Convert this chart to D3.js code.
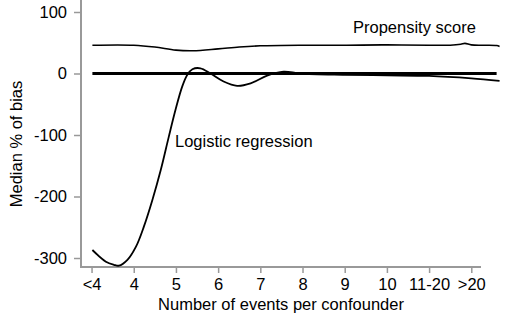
<!DOCTYPE html>
<html>
<head>
<meta charset="utf-8">
<script src="https://cdn.jsdelivr.net/npm/d3@7"></script>
<style>
  body { margin: 0; background: #fff; }
  text { font-family: Arial, "Liberation Sans", sans-serif; fill: #000; }
</style>
</head>
<body>
<div id="chart"></div>
<script>
// tick labels along the x axis (ordinal categories, equally spaced)
var xTickLabels = ["<4", "4", "5", "6", "7", "8", "9", "10", "11-20", ">20"];
var yTicks = [100, 0, -100, -200, -300];

// logistic regression curve, x in category-index units
var logitX = [0.02, 0.34, 0.53, 0.65, 0.85, 1.05, 1.24, 1.44, 1.64, 1.83, 1.99, 2.15, 2.27, 2.39, 2.58, 2.82, 3.13, 3.45, 3.77, 4.16, 4.55, 4.95, 6.0, 7.0, 8.0, 9.0, 9.67];
var logitY = [-287, -306, -311, -312.5, -303, -282, -249, -206, -157, -103, -59, -21, -2, 7, 8.5, 0, -13, -20, -16, -3.5, 3, 0, -2, -3, -4, -8, -12];

// propensity score curve
var propX = [0.02, 1.0, 1.5, 2.0, 2.4, 3.0, 3.5, 4.0, 5.0, 6.0, 7.0, 8.0, 8.5, 8.75, 8.85, 9.0, 9.3, 9.6, 9.67];
var propY = [46, 46, 43, 38, 37, 40, 43, 45, 46, 46, 46.5, 46, 46, 47.5, 49, 46.5, 46, 45.5, 44];

// reference line at zero
var refX = [0.02, 9.6];
var refY = [0, 0];

var width = 520, height = 322;
var svg = d3.select("#chart").append("svg")
  .attr("width", width)
  .attr("height", height);

var x = d3.scaleLinear().domain([-0.25, 9.23]).range([81, 481]);
var y = d3.scaleLinear().domain([100, -300]).range([12, 258]);

var line = d3.line()
  .x(function(d) { return x(d[0]); })
  .y(function(d) { return y(d[1]); })
  .curve(d3.curveCatmullRom.alpha(0.5));

// y axis
var yAxis = svg.append("g")
  .attr("transform", "translate(81,0)")
  .call(d3.axisLeft(y).tickValues(yTicks).tickSize(7).tickPadding(7)
    .tickFormat(function(d) { return String(d); }));
yAxis.select(".domain").remove();
yAxis.append("line")
  .attr("x1", 0).attr("x2", 0)
  .attr("y1", 0).attr("y2", 268)
  .attr("stroke", "#999").attr("stroke-width", 2);
yAxis.selectAll(".tick line").attr("stroke", "#999").attr("stroke-width", 1.5);
yAxis.selectAll(".tick text").style("font-size", "16.5px").attr("fill", "#000");

// x axis
var xAxis = svg.append("g")
  .attr("transform", "translate(0,267)")
  .call(d3.axisBottom(x).tickValues(d3.range(xTickLabels.length))
    .tickSize(6).tickPadding(5)
    .tickFormat(function(d) { return xTickLabels[d]; }));
xAxis.select(".domain").remove();
xAxis.append("line")
  .attr("x1", 80).attr("x2", x(9.23))
  .attr("stroke", "#999").attr("stroke-width", 2);
xAxis.selectAll(".tick line").attr("stroke", "#999").attr("stroke-width", 1.5);
xAxis.selectAll(".tick text").style("font-size", "16.5px").attr("fill", "#000");

// lines
svg.append("path")
  .datum(d3.zip(refX, refY))
  .attr("d", line)
  .attr("fill", "none").attr("stroke", "#000").attr("stroke-width", 3.2);

svg.append("path")
  .datum(d3.zip(propX, propY))
  .attr("d", line)
  .attr("fill", "none").attr("stroke", "#000").attr("stroke-width", 1.6);

svg.append("path")
  .datum(d3.zip(logitX, logitY))
  .attr("d", line)
  .attr("fill", "none").attr("stroke", "#000").attr("stroke-width", 1.8);

// annotations
svg.append("text").attr("x", 353).attr("y", 33)
  .style("font-size", "16.5px").text("Propensity score");
svg.append("text").attr("x", 175).attr("y", 147)
  .style("font-size", "16.5px").text("Logistic regression");

// axis titles
svg.append("text")
  .attr("x", 281).attr("y", 310)
  .attr("text-anchor", "middle")
  .style("font-size", "16.5px")
  .text("Number of events per confounder");

svg.append("text")
  .attr("transform", "translate(22,144) rotate(-90)")
  .attr("text-anchor", "middle")
  .style("font-size", "16.5px")
  .text("Median % of bias");
</script>
</body>
</html>
